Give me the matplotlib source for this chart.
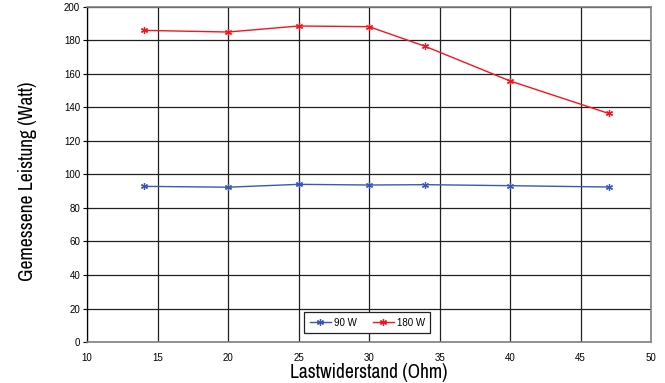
import matplotlib
matplotlib.use("Agg")
import matplotlib.pyplot as plt
from matplotlib import font_manager

# Load resistance (Ohm) and measured output power (Watt)
lastwiderstand = [14, 20, 25, 30, 34, 40, 47]
leistung_90w = [92.9, 92.4, 94.1, 93.7, 93.9, 93.3, 92.5]
leistung_180w = [186.0, 185.0, 188.6, 188.2, 176.4, 155.8, 136.4]
series_labels = ["90 W", "180 W"]
x_ticks = [10, 15, 20, 25, 30, 35, 40, 45, 50]
y_ticks = list(range(0, 201, 20))

# Prefer a condensed face for the axis titles when one is installed
available = sorted({f.name for f in font_manager.fontManager.ttflist})
condensed = [n for n in available if "Condensed" in n or "Narrow" in n]
label_family = condensed[:1] + ["Liberation Sans", "DejaVu Sans"]

plt.rcParams["font.family"] = ["Liberation Sans", "DejaVu Sans"]

fig = plt.figure(figsize=(6.65, 3.83), dpi=100)
ax = fig.add_axes([0.131, 0.107, 0.848, 0.875])

star = (6, 2, 0)
ax.plot(lastwiderstand, leistung_90w, color="#3a56b8", lw=1.0,
        marker=star, markersize=5, markeredgewidth=0.9, label=series_labels[0], zorder=3)
ax.plot(lastwiderstand, leistung_180w, color="#f5141e", lw=1.0,
        marker=star, markersize=5, markeredgewidth=0.9, label=series_labels[1], zorder=3)

ax.set_xlim(10, 50)
ax.set_ylim(0, 200)
ax.set_xticks(x_ticks)
ax.set_yticks(y_ticks)
ax.grid(True, color="#202020", lw=0.9)
ax.set_axisbelow(True)

ax.tick_params(axis="x", length=0, labelsize=7, pad=8)
ax.tick_params(axis="y", length=3, width=0.8, direction="out", labelsize=7, pad=2)

for side in ("top", "right", "bottom"):
    ax.spines[side].set_color("#808080")
    ax.spines[side].set_linewidth(1.2)
ax.spines["left"].set_color("#000000")
ax.spines["left"].set_linewidth(0.9)

label_size = 14 if condensed else 13
ax.set_xlabel("Lastwiderstand (Ohm)", fontsize=label_size, family=label_family, labelpad=0)
ax.set_ylabel("Gemessene Leistung (Watt)", fontsize=label_size, family=label_family,
              va="center")
ax.yaxis.set_label_coords(-0.105, 0.479)

leg = ax.legend(loc="lower center", bbox_to_anchor=(0.497, 0.027), ncol=2, fontsize=7,
                frameon=True, fancybox=False, edgecolor="#202020", framealpha=1,
                handlelength=2.2, columnspacing=1.6, borderpad=0.55, handletextpad=0.3,
                borderaxespad=0)
leg.get_frame().set_linewidth(0.9)

fig.savefig("out.png", dpi=100)
